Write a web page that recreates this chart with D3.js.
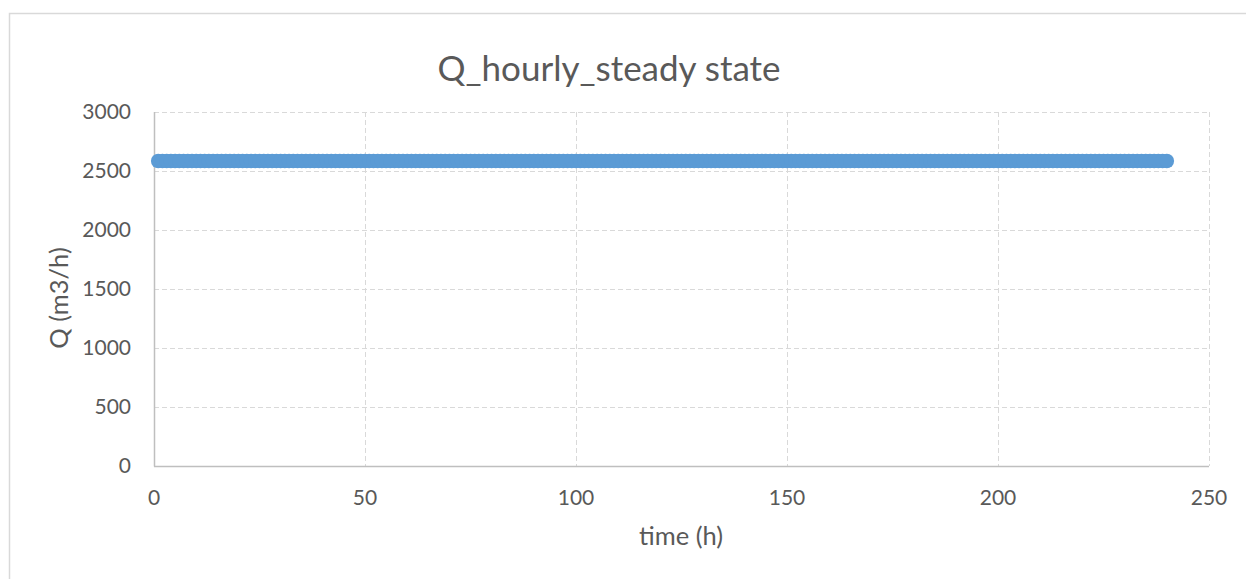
<!DOCTYPE html>
<html><head><meta charset="utf-8">
<script src="https://cdn.jsdelivr.net/npm/d3@7"></script>
<style>body{margin:0;background:#fff;} text{font-family:Lato,"Open Sans",sans-serif;fill:#595959;}</style>
</head><body>
<svg id="c" width="1246" height="579"></svg>
<script>
const title = "Q_hourly_steady state";
const xLabel = "time (h)";
const yLabel = "Q (m3/h)";
const xTicks = [0,50,100,150,200,250];
const yTicks = [0,500,1000,1500,2000,2500,3000];
const timeH = [1,2,3,4,5,6,7,8,9,10,11,12,13,14,15,16,17,18,19,20,21,22,23,24,25,26,27,28,29,30,31,32,33,34,35,36,37,38,39,40,41,42,43,44,45,46,47,48,49,50,51,52,53,54,55,56,57,58,59,60,61,62,63,64,65,66,67,68,69,70,71,72,73,74,75,76,77,78,79,80,81,82,83,84,85,86,87,88,89,90,91,92,93,94,95,96,97,98,99,100,101,102,103,104,105,106,107,108,109,110,111,112,113,114,115,116,117,118,119,120,121,122,123,124,125,126,127,128,129,130,131,132,133,134,135,136,137,138,139,140,141,142,143,144,145,146,147,148,149,150,151,152,153,154,155,156,157,158,159,160,161,162,163,164,165,166,167,168,169,170,171,172,173,174,175,176,177,178,179,180,181,182,183,184,185,186,187,188,189,190,191,192,193,194,195,196,197,198,199,200,201,202,203,204,205,206,207,208,209,210,211,212,213,214,215,216,217,218,219,220,221,222,223,224,225,226,227,228,229,230,231,232,233,234,235,236,237,238,239,240];
const qValues = [2585,2585,2585,2585,2585,2585,2585,2585,2585,2585,2585,2585,2585,2585,2585,2585,2585,2585,2585,2585,2585,2585,2585,2585,2585,2585,2585,2585,2585,2585,2585,2585,2585,2585,2585,2585,2585,2585,2585,2585,2585,2585,2585,2585,2585,2585,2585,2585,2585,2585,2585,2585,2585,2585,2585,2585,2585,2585,2585,2585,2585,2585,2585,2585,2585,2585,2585,2585,2585,2585,2585,2585,2585,2585,2585,2585,2585,2585,2585,2585,2585,2585,2585,2585,2585,2585,2585,2585,2585,2585,2585,2585,2585,2585,2585,2585,2585,2585,2585,2585,2585,2585,2585,2585,2585,2585,2585,2585,2585,2585,2585,2585,2585,2585,2585,2585,2585,2585,2585,2585,2585,2585,2585,2585,2585,2585,2585,2585,2585,2585,2585,2585,2585,2585,2585,2585,2585,2585,2585,2585,2585,2585,2585,2585,2585,2585,2585,2585,2585,2585,2585,2585,2585,2585,2585,2585,2585,2585,2585,2585,2585,2585,2585,2585,2585,2585,2585,2585,2585,2585,2585,2585,2585,2585,2585,2585,2585,2585,2585,2585,2585,2585,2585,2585,2585,2585,2585,2585,2585,2585,2585,2585,2585,2585,2585,2585,2585,2585,2585,2585,2585,2585,2585,2585,2585,2585,2585,2585,2585,2585,2585,2585,2585,2585,2585,2585,2585,2585,2585,2585,2585,2585,2585,2585,2585,2585,2585,2585,2585,2585,2585,2585,2585,2585,2585,2585,2585,2585,2585,2585];

const svg = d3.select("#c");
const L = 154, R = 1209, T = 112, B = 466;
const x = d3.scaleLinear().domain([0,250]).range([L,R]);
const y = d3.scaleLinear().domain([0,3000]).range([B,T]);

// chart border
svg.append("rect").attr("x",9.5).attr("y",13.5).attr("width",1300).attr("height",700)
  .attr("fill","none").attr("stroke","#d9d9d9").attr("stroke-width",1.5);

// gridlines
const g = svg.append("g");
g.selectAll(".hg").data(yTicks.filter(d=>d>0)).join("line")
  .attr("x1",L).attr("x2",R).attr("y1",d=>Math.round(y(d))+0.5).attr("y2",d=>Math.round(y(d))+0.5)
  .attr("stroke","#d9d9d9").attr("stroke-dasharray","5,3");
g.selectAll(".vg").data(xTicks.filter(d=>d>0)).join("line")
  .attr("y1",T).attr("y2",B).attr("x1",d=>Math.round(x(d))+0.5).attr("x2",d=>Math.round(x(d))+0.5)
  .attr("stroke","#d9d9d9").attr("stroke-dasharray","5,3");

// axes lines
svg.append("line").attr("x1",L+0.5).attr("x2",L+0.5).attr("y1",T).attr("y2",B+0.5).attr("stroke","#bfbfbf").attr("stroke-width",1.5);
svg.append("line").attr("x1",L).attr("x2",R).attr("y1",B+0.5).attr("y2",B+0.5).attr("stroke","#bfbfbf").attr("stroke-width",1.5);

// tick labels
svg.selectAll(".yt").data(yTicks).join("text")
  .attr("x",131).attr("y",d=>y(d)).attr("dy","0.35em").attr("text-anchor","end")
  .attr("font-size",21).text(d=>d);
svg.selectAll(".xt").data(xTicks).join("text")
  .attr("x",d=>x(d)).attr("y",498).attr("dy","0.35em").attr("text-anchor","middle")
  .attr("font-size",21).text(d=>d);

// points
svg.append("g").selectAll("circle").data(timeH.map((t,i)=>[t,qValues[i]])).join("circle")
  .attr("cx",d=>x(d[0])).attr("cy",d=>y(d[1])).attr("r",7.3).attr("fill","#5b9bd5");

// title & labels
svg.append("text").attr("x",609).attr("y",81).attr("text-anchor","middle").attr("font-size",35).text(title);
svg.append("text").attr("x",681).attr("y",545).attr("text-anchor","middle").attr("font-size",25.5).text(xLabel);
svg.append("text").attr("transform","translate(59,298) rotate(-90)").attr("dy","0.35em").attr("text-anchor","middle").attr("font-size",25.5).text(yLabel);
</script>
</body></html>
